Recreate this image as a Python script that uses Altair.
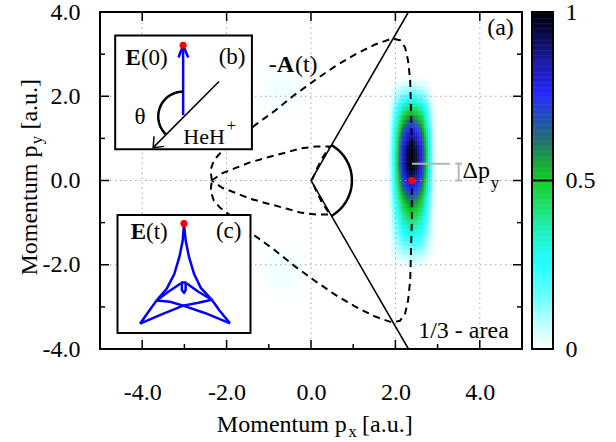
import altair as alt
import numpy as np
import pandas as pd

SERIF = "Liberation Serif"

# ------------------------------------------------------------------ data ---
# momentum distribution of the peak, read off the picture as two profiles
heat_px = [1.80, 1.85, 1.90, 1.95, 2.00, 2.05, 2.10, 2.15, 2.20, 2.25, 2.30, 2.35,
           2.40, 2.45, 2.50, 2.55, 2.60, 2.65, 2.70, 2.75, 2.80, 2.85, 2.90, 2.95, 3.00]
heat_px_profile = [0.00, 0.03, 0.09, 0.19, 0.32, 0.46, 0.60, 0.73, 0.82, 0.89, 0.95, 0.99,
                   1.00, 0.99, 0.95, 0.89, 0.82, 0.73, 0.60, 0.46, 0.32, 0.19, 0.09, 0.03, 0.00]
heat_py = [-2.2, -2.1, -2.0, -1.9, -1.8, -1.7, -1.6, -1.5, -1.4, -1.3, -1.2, -1.1,
           -1.0, -0.9, -0.8, -0.7, -0.6, -0.5, -0.4, -0.3, -0.2, -0.1, 0.0, 0.1,
           0.2, 0.3, 0.4, 0.5, 0.6, 0.7, 0.8, 0.9, 1.0, 1.1, 1.2, 1.3,
           1.4, 1.5, 1.6, 1.7, 1.8, 1.9, 2.0, 2.1, 2.2, 2.3, 2.4, 2.5]
heat_py_profile = [0.00, 0.01, 0.03, 0.05, 0.08, 0.12, 0.16, 0.20, 0.24, 0.28, 0.32, 0.36,
                   0.40, 0.44, 0.48, 0.52, 0.57, 0.61, 0.66, 0.71, 0.77, 0.82, 0.87, 0.91,
                   0.95, 0.98, 1.00, 1.00, 0.995, 0.98, 0.96, 0.93, 0.89, 0.84, 0.78, 0.72,
                   0.66, 0.60, 0.52, 0.45, 0.38, 0.29, 0.21, 0.14, 0.09, 0.05, 0.02, 0.00]

# two very faint side lobes (upper and lower), profiles and peak level
lobe_px = [-1.2, -1.1, -1.0, -0.9, -0.8, -0.7, -0.6, -0.5, -0.4, -0.3, -0.2, -0.1]
lobe_px_profile = [0.2, 0.4, 0.6, 0.8, 0.95, 1.0, 1.0, 0.9, 0.75, 0.55, 0.35, 0.15]
lobe_upper_py = [1.5, 1.6, 1.7, 1.8, 1.9, 2.0, 2.1, 2.2, 2.3, 2.4, 2.5, 2.6, 2.7, 2.8, 2.9]
lobe_lower_py = [-1.5, -1.6, -1.7, -1.8, -1.9, -2.0, -2.1, -2.2, -2.3, -2.4, -2.5, -2.6,
                 -2.7, -2.8, -2.9]
lobe_py_profile = [0.15, 0.3, 0.5, 0.7, 0.85, 0.95, 1.0, 1.0, 0.95, 0.85, 0.7, 0.5, 0.3,
                   0.15, 0.05]
lobe_level = 0.018

# -A(t) trajectory (dashed), outer and inner branch
outer_px = [-2.35, -2.38, -2.30, -2.16, -1.75, -1.33, -0.85, -0.38, 0.09, 0.57, 1.04, 1.52,
            1.92, 2.11, 2.23, 2.30, 2.35, 2.37, 2.39, 2.39, 2.39, 2.37, 2.35, 2.30, 2.23,
            2.11, 1.92, 1.52, 1.04, 0.57, 0.09, -0.38, -0.85, -1.33, -1.75, -2.16, -2.30,
            -2.38, -2.35]
outer_py = [0.00, 0.25, 0.48, 0.64, 0.95, 1.31, 1.66, 2.04, 2.38, 2.71, 2.99, 3.23,
            3.37, 3.33, 3.16, 2.85, 2.38, 1.66, 0.95, 0.00, -0.95, -1.66, -2.38, -2.85, -3.16,
            -3.33, -3.37, -3.23, -2.99, -2.71, -2.38, -2.04, -1.66, -1.31, -0.95, -0.64, -0.48,
            -0.25, 0.00]
inner_px = [-2.35, -2.11, -1.75, -1.45, -1.02, -0.57, -0.26, 0.14, 0.45, 0.26, 0.12, 0.02,
            0.12, 0.26, 0.45, 0.14, -0.26, -0.57, -1.02, -1.45, -1.75, -2.11, -2.35]
inner_py = [0.00, 0.17, 0.31, 0.43, 0.55, 0.67, 0.76, 0.81, 0.81, 0.52, 0.24, 0.00,
            -0.24, -0.52, -0.81, -0.81, -0.76, -0.67, -0.55, -0.43, -0.31, -0.17, 0.00]

# boundaries of the 1/3 area (solid) and the angle arc
boundary_px = [2.31, 0.0, 2.31]
boundary_py = [4.0, 0.0, -4.0]
arc_radius = 0.97
arc_from_deg, arc_to_deg = 60, -60

# maximum marker and Delta p_y marker
max_px, max_py = [2.39], [0.0]
dpy_line_px = [2.39, 3.29]
dpy_level = 0.40
dpy_bracket_px = 3.50

# inset (b): field direction and molecular axis
inset_b_box = [-4.64, -1.40, 0.74, 3.44]
efield0_seg = ["shaft", "shaft", "head", "head", "head"]
efield0_px = [-3.03, -3.03, -3.14, -3.03, -2.91]
efield0_py = [1.55, 3.21, 2.92, 3.21, 2.92]
mol_seg = ["axis", "axis", "head", "head", "head"]
mol_px = [-2.18, -3.74, -3.72, -3.74, -3.48]
mol_py = [2.35, 0.78, 1.05, 0.78, 0.81]
theta_center = (-3.03, 1.52)
theta_radius = 0.59
theta_from_deg, theta_to_deg = 90, 225

# inset (c): E(t) curve, traced piece by piece
inset_c_box = [-4.585, -1.434, -3.62, -0.82]
et_seg = (["L"] * 8 + ["R"] * 8 + ["A"] * 5 + ["B"] * 5 + ["C"] * 3 + ["D"] * 3
          + ["T"] * 2 + ["U"] * 5)
et_px = [-3.01, -3.04, -3.12, -3.24, -3.42, -3.66, -3.86, -4.05,
         -3.01, -2.97, -2.89, -2.77, -2.61, -2.35, -2.16, -1.92,
         -4.05, -3.54, -3.03, -2.67, -2.35,
         -1.92, -2.50, -3.03, -3.34, -3.66,
         -3.66, -3.38, -3.08,
         -2.35, -2.67, -2.95,
         -3.08, -2.95,
         -3.06, -3.06, -3.01, -2.97, -2.97]
et_py = [-1.045, -1.425, -1.82, -2.22, -2.57, -2.85, -3.13, -3.40,
         -1.045, -1.425, -1.82, -2.22, -2.55, -2.83, -3.10, -3.39,
         -3.40, -3.18, -2.97, -2.90, -2.83,
         -3.39, -3.15, -2.97, -2.88, -2.85,
         -2.85, -2.64, -2.44,
         -2.83, -2.64, -2.44,
         -2.42, -2.42,
         -2.43, -2.60, -2.66, -2.60, -2.43]
et_start_px, et_start_py = [-3.01], [-1.02]

# axes
x_label_values = [-4, -2, 0, 2, 4]
y_label_values = [-4, -2, 0, 2, 4]
major_x = [-4, -2, 0, 2, 4]
minor_x = [-3, -1, 1, 3]
major_y = [-2, 0, 2]
minor_y = [-3, -1, 1, 3]
grid_x = [-4, -2, 0, 2, 4]
grid_y = [-2, 0, 2]

# colour map of the colour bar
cmap_stops = [0, 0.05, 0.15, 0.25, 0.33, 0.42, 0.5, 0.56, 0.62, 0.70, 0.76, 0.85, 0.92, 1.0]
cmap_colors = ["#ffffff", "#d4ffff", "#70ffff", "#22ffff", "#20f4d0", "#1ee070", "#14cc28",
               "#18a040", "#207070", "#2448c8", "#2626ff", "#1a1aa8", "#0c0c58", "#000008"]
cbar_labels = [0, 0.5, 1]

# ----------------------------------------------------------------- scales ---
W, H = 422, 337
XS = alt.Scale(domain=[-5, 5], nice=False, zero=False)
YS = alt.Scale(domain=[-4, 4], nice=False, zero=False)
CS = alt.Scale(domain=cmap_stops, range=cmap_colors, interpolate="rgb")
LBL = "(datum.value < 0 ? '-' : '') + format(abs(datum.value), '.1f')"
X_AXIS = alt.Axis(values=x_label_values, labelExpr=LBL, ticks=False, domain=False, grid=False,
                  labelPadding=31, labelFont=SERIF, labelFontSize=24, labelColor="black",
                  title="", labelFlush=False, labelOverlap=False)
Y_AXIS = alt.Axis(values=y_label_values, labelExpr=LBL, ticks=False, domain=False, grid=False,
                  labelPadding=20, labelFont=SERIF, labelFontSize=24, labelColor="black",
                  title="", labelFlush=False, labelOverlap=False)


def X(f="x"):
    return alt.X(f + ":Q", scale=XS, axis=X_AXIS)


def Y(f="y"):
    return alt.Y(f + ":Q", scale=YS, axis=Y_AXIS)


def line_layer(df, **kw):
    return alt.Chart(df).mark_line(**kw).encode(
        x=X(), y=Y(), detail="seg:N", order=alt.Order("o:Q"))


def path_df(xs, ys, segs=None):
    segs = segs if segs is not None else ["s"] * len(xs)
    return pd.DataFrame({"x": xs, "y": ys, "seg": segs, "o": range(len(xs))})


def rule_layer(df, **kw):
    return alt.Chart(df).mark_rule(**kw).encode(x=X(), x2="x2:Q", y=Y(), y2="y2:Q")


def text_layer(items, size=23, **kw):
    df = pd.DataFrame(items, columns=["x", "y", "t"])
    return alt.Chart(df).mark_text(font=SERIF, fontSize=size, color="black", **kw).encode(
        x=X(), y=Y(), text="t:N")


# ----------------------------------------------------------------- layers ---
cells = []
for lpy in (lobe_upper_py, lobe_lower_py):
    for px, fx in zip(lobe_px, lobe_px_profile):
        for py, fy in zip(lpy, lobe_py_profile):
            cells.append({"x": px - 0.055, "x2": px + 0.055, "y": py - 0.055, "y2": py + 0.055,
                          "v": lobe_level * fx * fy})
for px, fx in zip(heat_px, heat_px_profile):
    for py, fy in zip(heat_py, heat_py_profile):
        v = fx * fy
        if v >= 0.01:
            cells.append({"x": px - 0.03, "x2": px + 0.03, "y": py - 0.055, "y2": py + 0.055, "v": v})
heat_df = pd.DataFrame(cells)
heat = alt.Chart(heat_df).mark_rect().encode(
    x=X(), x2="x2:Q", y=Y(), y2="y2:Q", color=alt.Color("v:Q", scale=CS, legend=None))

grid_df = pd.DataFrame(
    [{"x": g, "x2": g, "y": -4, "y2": 4} for g in grid_x]
    + [{"x": -5, "x2": 5, "y": g, "y2": g} for g in grid_y])
grid = rule_layer(grid_df, color="#a8a8a8", strokeWidth=1, strokeDash=[1.5, 3.5])

dashed_outer = line_layer(path_df(outer_px, outer_py), color="black", strokeWidth=2,
                          strokeDash=[7, 5])
dashed_inner = line_layer(path_df(inner_px, inner_py), color="black", strokeWidth=2,
                          strokeDash=[7, 5])
boundary = line_layer(path_df(boundary_px, boundary_py), color="black", strokeWidth=1.5)

a = np.radians(np.linspace(arc_from_deg, arc_to_deg, 41))
arc = line_layer(path_df(arc_radius * np.cos(a), arc_radius * np.sin(a)), color="black",
                 strokeWidth=2.5)

max_dot = alt.Chart(pd.DataFrame({"x": max_px, "y": max_py})).mark_circle(
    size=55, color="#ff0000", opacity=1).encode(x=X(), y=Y())

dpy_df = pd.DataFrame([
    {"x": dpy_line_px[0], "x2": dpy_line_px[1], "y": dpy_level, "y2": dpy_level},
    {"x": dpy_bracket_px, "x2": dpy_bracket_px, "y": 0.0, "y2": dpy_level},
    {"x": dpy_bracket_px - 0.08, "x2": dpy_bracket_px + 0.08, "y": 0.0, "y2": 0.0},
    {"x": dpy_bracket_px - 0.08, "x2": dpy_bracket_px + 0.08, "y": dpy_level, "y2": dpy_level},
])
dpy = rule_layer(dpy_df, color="#b4b4b4", strokeWidth=2)

txt_main_left = text_layer([(2.54, -3.73, "1/3 - area"), (-0.38, 2.57, "(t)")],
                           size=24, align="left", baseline="alphabetic")
txt_main_right = text_layer([(-0.81, 2.57, "-"), (4.24, 0.05, "Δp")],
                            size=24, align="right", baseline="alphabetic")
txt_main_bold = text_layer([(-0.81, 2.57, "A")], size=24, align="left",
                           baseline="alphabetic", fontWeight="bold")
txt_main_sub = text_layer([(4.26, -0.17, "y")], size=17, align="left", baseline="alphabetic")
txt_a = text_layer([(4.49, 3.62, "(a)")], size=24, align="center", baseline="middle")


def box_layer(b):
    df = pd.DataFrame([{"x": b[0], "x2": b[1], "y": b[2], "y2": b[3]}])
    return alt.Chart(df).mark_rect(fill="white", stroke="black", strokeWidth=2).encode(
        x=X(), x2="x2:Q", y=Y(), y2="y2:Q")


box_b = box_layer(inset_b_box)
box_c = box_layer(inset_c_box)

efield0 = line_layer(path_df(efield0_px, efield0_py, efield0_seg), color="#0000ff",
                     strokeWidth=2.5)
mol = line_layer(path_df(mol_px, mol_py, mol_seg), color="black", strokeWidth=1.5)
ta = np.radians(np.linspace(theta_from_deg, theta_to_deg, 31))
theta_arc = line_layer(path_df(theta_center[0] + theta_radius * np.cos(ta),
                               theta_center[1] + theta_radius * np.sin(ta)),
                       color="black", strokeWidth=2.5)
dot_b = alt.Chart(pd.DataFrame({"x": [efield0_px[1]], "y": [efield0_py[1]]})).mark_circle(
    size=50, color="#ff0000", opacity=1).encode(x=X(), y=Y())

et_curve = line_layer(path_df(et_px, et_py, et_seg), color="#0000ff", strokeWidth=2.5)
dot_c = alt.Chart(pd.DataFrame({"x": et_start_px, "y": et_start_py})).mark_circle(
    size=50, color="#ff0000", opacity=1).encode(x=X(), y=Y())

txt_in_left = text_layer([(-4.03, 2.74, "(0)"), (-3.91, -1.40, "(t)")],
                         size=23, align="left", baseline="alphabetic")
txt_in_right = text_layer([(-2.04, 0.855, "HeH")], size=22, align="right",
                          baseline="alphabetic")
txt_in_bold = text_layer([(-4.03, 2.74, "E"), (-3.91, -1.40, "E")], size=23, align="right",
                         baseline="alphabetic", fontWeight="bold")
txt_in_mid = text_layer([(-1.87, 2.92, "(b)"), (-1.95, -1.21, "(c)"), (-4.05, 1.50, "θ")],
                        size=23, align="center", baseline="middle")
txt_in_sup = text_layer([(-2.00, 1.17, "+")], size=17, align="left", baseline="alphabetic")

# frame ticks (inward)
lx, ly = 9 / (W / 10), 9 / (H / 8)
sx, sy = 5 / (W / 10), 5 / (H / 8)
ticks = []
for t in major_x:
    ticks += [{"x": t, "x2": t, "y": -4, "y2": -4 + ly}, {"x": t, "x2": t, "y": 4, "y2": 4 - ly}]
for t in minor_x:
    ticks += [{"x": t, "x2": t, "y": -4, "y2": -4 + sy}]
for t in major_y:
    ticks += [{"x": -5, "x2": -5 + lx, "y": t, "y2": t}, {"x": 5, "x2": 5 - lx, "y": t, "y2": t}]
for t in minor_y:
    ticks += [{"x": -5, "x2": -5 + sx, "y": t, "y2": t}, {"x": 5, "x2": 5 - sx, "y": t, "y2": t}]
tick_layer = rule_layer(pd.DataFrame(ticks), color="black", strokeWidth=1.5)

# axis titles with subscripts
xt_main = text_layer([(0.85, -5.96, "Momentum p")], size=24, align="right", baseline="alphabetic")
xt_rest = text_layer([(1.21, -5.96, "[a.u.]")], size=24, align="left", baseline="alphabetic")
xt_sub = text_layer([(0.88, -6.10, "x")], size=17, align="left", baseline="alphabetic")
yt_main = text_layer([(-6.49, 0.83, "Momentum p")], size=24, align="right",
                     baseline="alphabetic", angle=270)
yt_rest = text_layer([(-6.49, 1.21, "[a.u.]")], size=24, align="left",
                     baseline="alphabetic", angle=270)
yt_sub = text_layer([(-6.37, 0.86, "y")], size=17, align="left", baseline="alphabetic", angle=270)

main = alt.layer(
    heat, grid, dashed_outer, dashed_inner, boundary, arc, max_dot, dpy,
    txt_main_left, txt_main_right, txt_main_bold, txt_main_sub, txt_a,
    box_b, box_c, efield0, mol, theta_arc, dot_b, et_curve, dot_c,
    txt_in_left, txt_in_right, txt_in_bold, txt_in_mid, txt_in_sup,
    tick_layer, xt_main, xt_rest, xt_sub, yt_main, yt_rest, yt_sub,
)

# ------------------------------------------------------------- colour bar ---
CBX = alt.Scale(domain=[0, 1], range=[432, 453])
CBY = alt.Scale(domain=[0, 1], range=[H, 0])
CB_AXIS = alt.Axis(orient="right", offset=31, values=cbar_labels, format="~g", ticks=False,
                   domain=False, grid=False, labelPadding=12, labelFont=SERIF,
                   labelFontSize=24, labelColor="black", title="", labelFlush=False,
                   labelOverlap=False)
step = 0.005
cb_v = np.arange(0, 1, step)
cb_df = pd.DataFrame({"x": 0.0, "x2": 1.0, "y": cb_v, "y2": np.minimum(cb_v + step * 1.3, 1.0),
                      "v": cb_v + step / 2})


def cbx(f="x"):
    return alt.X(f + ":Q", scale=CBX, axis=None)


def cby(f="y"):
    return alt.Y(f + ":Q", scale=CBY, axis=CB_AXIS)


cb_rects = alt.Chart(cb_df).mark_rect().encode(
    x=cbx(), x2="x2:Q", y=cby(), y2="y2:Q", color=alt.Color("v:Q", scale=CS, legend=None))
cb_frame = alt.Chart(pd.DataFrame([{"x": 0, "x2": 1, "y": 0, "y2": 1}])).mark_rect(
    fillOpacity=0, stroke="black", strokeWidth=2).encode(x=cbx(), x2="x2:Q", y=cby(), y2="y2:Q")
cb_mid = alt.Chart(pd.DataFrame([{"x": 0, "x2": 1, "y": 0.5}])).mark_rule(
    color="black", strokeWidth=2).encode(x=cbx(), x2="x2:Q", y=cby())
cbar = alt.layer(cb_rects, cb_frame, cb_mid)

chart = alt.layer(main, cbar).resolve_scale(x="independent", y="independent").properties(
    width=W, height=H,
    padding={"left": 100, "top": 12, "right": 616 - 100 - W, "bottom": 442 - 12 - H},
    autosize=alt.AutoSizeParams(type="none"),
    background="white",
).configure_view(stroke="black", strokeWidth=2)

chart.save("out.html", embed_options={"renderer": "svg", "actions": False})
